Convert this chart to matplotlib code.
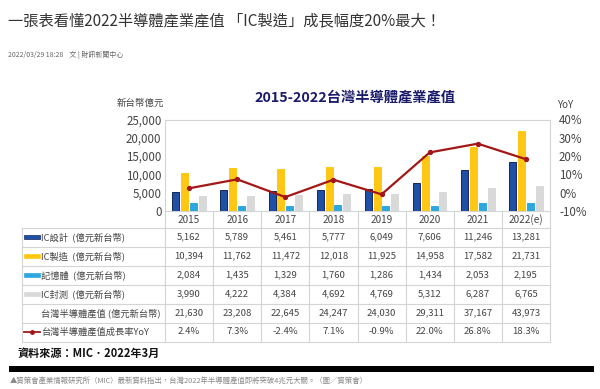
import matplotlib
matplotlib.use('Agg')
import matplotlib.pyplot as plt
from matplotlib.transforms import blended_transform_factory
from matplotlib.patches import Rectangle

plt.rcParams['font.family'] = ['Noto Sans CJK TC', 'DejaVu Sans']

# ---------------- data ----------------
years = ['2015', '2016', '2017', '2018', '2019', '2020', '2021', '2022(e)']
ic_design = [5162, 5789, 5461, 5777, 6049, 7606, 11246, 13281]
ic_manu = [10394, 11762, 11472, 12018, 11925, 14958, 17582, 21731]
memory = [2084, 1435, 1329, 1760, 1286, 1434, 2053, 2195]
ic_pkg = [3990, 4222, 4384, 4692, 4769, 5312, 6287, 6765]
total = [21630, 23208, 22645, 24247, 24030, 29311, 37167, 43973]
yoy = [2.4, 7.3, -2.4, 7.1, -0.9, 22.0, 26.8, 18.3]

series_names = ['IC設計  (億元新台幣)', 'IC製造  (億元新台幣)', '記憶體  (億元新台幣)', 'IC封測  (億元新台幣)']
total_name = '台灣半導體產值 (億元新台幣)'
yoy_name = '台灣半導體產值成長率YoY'
left_ticks = [0, 5000, 10000, 15000, 20000, 25000]
right_ticks = [-10, 0, 10, 20, 30, 40]

colors = ['#2050A6', '#FFC713', '#2CA8DF', '#D9D9D9']
edges = ['#10285E', '#FFC713', '#2CA8DF', '#D9D9D9']
line_color = '#A31717'
txt = '#454545'
grid = '#D4D4D4'

W, H = 600, 389
fig = plt.figure(figsize=(6, 3.89), dpi=100)
fig.patch.set_facecolor('white')


def fx(x):
    return x / W


def fy(y):
    return 1 - y / H


ov = fig.add_axes([0, 0, 1, 1])
ov.set_xlim(0, W)
ov.set_ylim(H, 0)
ov.axis('off')

L, R, T, B = 165, 550, 119.5, 211
ax = fig.add_axes([fx(L), fy(B), fx(R - L), (B - T) / H])
ax.patch.set_visible(False)
ax.set_zorder(2)

n = len(years)
xs = list(range(n))
bw = 0.145
step = 0.183
for i, (vals, c, e) in enumerate(zip([ic_design, ic_manu, memory, ic_pkg], colors, edges)):
    off = (i - 1.5) * step
    ax.bar([x + off for x in xs], vals, width=bw, color=c, edgecolor=e, linewidth=0.7, zorder=3)

ax.set_xlim(-0.5, n - 0.5)
ax.set_ylim(0, 25000)
ax.set_yticks(left_ticks)
ax.set_yticklabels([f'{v:,}' for v in left_ticks], fontsize=8.3, color=txt)
ax.set_xticks([])
ax.tick_params(axis='y', length=0, pad=2.5)
for s in ax.spines.values():
    s.set_visible(False)

ax2 = ax.twinx()
ax2.plot(xs, yoy, color=line_color, lw=1.6, marker='o', ms=2.8, zorder=4)
ax2.set_ylim(-10, 40)
ax2.set_yticks(right_ticks)
ax2.set_yticklabels([f'{v}%' for v in right_ticks], fontsize=8.3, color=txt)
ax2.tick_params(axis='y', length=0, pad=6.5)
for s in ax2.spines.values():
    s.set_visible(False)

# --------------- frame and table ---------------
lw = 0.8
bt = blended_transform_factory(ax.transData, ov.transData)
ov.plot([L, R], [T, T], color=grid, lw=lw)
ov.plot([L, L], [T, 341.5], color=grid, lw=lw)
ov.plot([R, R], [T, 341.5], color=grid, lw=lw)
ov.plot([L, R], [B, B], color=grid, lw=lw)
row_lines = [227.5, 246.5, 265.5, 284.5, 303.5, 322.5, 341.5]
for yl in row_lines:
    ov.plot([22, R], [yl, yl], color=grid, lw=lw)
ov.plot([22, 22], [227.5, 341.5], color=grid, lw=lw)
for k in range(1, n):
    ov.plot([k - 0.5, k - 0.5], [B, 341.5], color=grid, lw=lw, transform=bt)

for x, yl in zip(xs, years):
    ov.text(x, 219.5, yl, transform=bt, ha='center', va='center', fontsize=7.2, color=txt)

row_y = [237, 256, 275, 294, 313, 332]
rows = [ic_design, ic_manu, memory, ic_pkg, total]
for ry, vals in zip(row_y, rows):
    for x, v in zip(xs, vals):
        ov.text(x, ry, f'{v:,}', transform=bt, ha='center', va='center', fontsize=6.9, color=txt)
for x, v in zip(xs, yoy):
    ov.text(x, row_y[5], f'{v:.1f}%', transform=bt, ha='center', va='center', fontsize=6.9, color=txt)

for ry, name, c, e in zip(row_y[:4], series_names, colors, edges):
    ov.add_patch(Rectangle((24, ry - 2), 16, 4, facecolor=c, edgecolor=e, lw=0.5))
    ov.text(41, ry, name, ha='left', va='center', fontsize=6.7, color=txt)
ov.text(41, row_y[4], total_name, ha='left', va='center', fontsize=6.7, color=txt)
ov.plot([24, 40], [row_y[5], row_y[5]], color=line_color, lw=1.3)
ov.plot([32], [row_y[5]], 'o', color=line_color, ms=2.5)
ov.text(41, row_y[5], yoy_name, ha='left', va='center', fontsize=6.7, color=txt)

# --------------- headings & captions ---------------
ov.text(8, 21, '一張表看懂2022半導體產業產值 「IC製造」成長幅度20%最大！', ha='left', va='center',
        fontsize=11, color='#333333')
ov.text(8, 55, '2022/03/29 18:28    文 | 財訊新聞中心', ha='left', va='center', fontsize=5, color='#666666')
ov.text(355, 97, '2015-2022台灣半導體產業產值', ha='center', va='center', fontsize=10.3,
        fontweight='bold', color='#1B1B6B')
ov.text(164, 103, '新台幣億元', ha='right', va='center', fontsize=6.8, color=txt)
ov.text(557, 105, 'YoY', ha='left', va='center', fontsize=7, color=txt)
ov.text(18, 353.5, '資料來源：MIC．2022年3月', ha='left', va='center', fontsize=8, fontweight='bold',
        color='#111111')
ov.add_patch(Rectangle((9, 366), 585, 6, facecolor='black', edgecolor='none'))
ov.text(10, 381, '▲資策會產業情報研究所（MIC）最新資料指出，台灣2022年半導體產值即將突破4兆元大關。（圖／資策會）',
        ha='left', va='center', fontsize=5.3, color='#888888')

fig.savefig('out.png', dpi=100, facecolor='white')
